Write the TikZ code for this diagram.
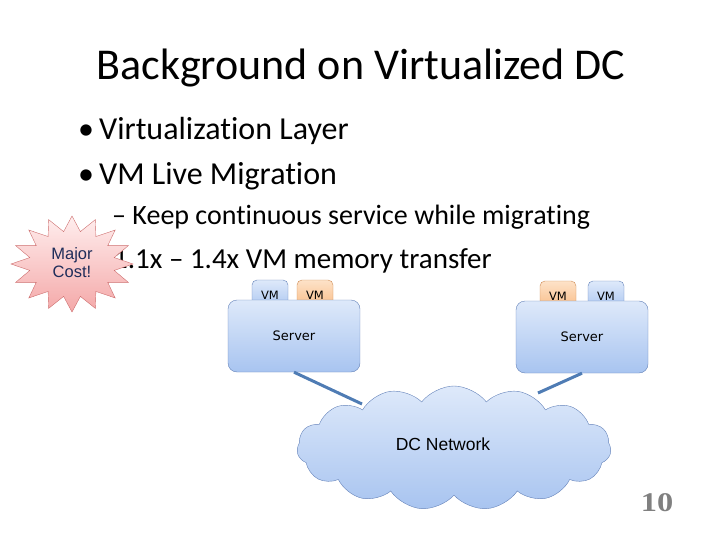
\documentclass[tikz,border=0pt]{standalone}
\usepackage{fontspec}
\setmainfont{Carlito}[Ligatures=NoCommon]
\newfontfamily\arialfont{Liberation Sans}
\newfontfamily\tahomafont{DejaVu Sans}
\newfontfamily\numfont{Liberation Serif}
\usetikzlibrary{shapes.symbols, positioning}
\definecolor{srvtop}{RGB}{222, 233, 250}
\definecolor{srvbot}{RGB}{168, 196, 240}
\definecolor{srvline}{RGB}{100, 130, 185}
\definecolor{vmtop}{RGB}{253, 226, 200}
\definecolor{vmbot}{RGB}{249, 186, 130}
\definecolor{vmline}{RGB}{205, 140, 85}
\definecolor{linkblue}{RGB}{79, 124, 180}
\definecolor{startop}{RGB}{255, 238, 238}
\definecolor{starbot}{RGB}{244, 168, 168}
\definecolor{starline}{RGB}{205, 110, 110}
\definecolor{costtext}{RGB}{31, 45, 90}

\begin{document}
\begin{tikzpicture}[
  x=1pt, y=-1pt,
  title/.style={font=\fontsize{44}{52}\selectfont, anchor=base, inner sep=0pt},
  bullet/.style={font=\fontsize{32}{38}\selectfont, anchor=base west, inner sep=0pt},
  subitem/.style={font=\fontsize{28}{33}\selectfont, anchor=base west, inner sep=0pt},
  server/.style={
    draw=srvline, rounded corners=9pt, top color=srvtop, bottom color=srvbot,
    minimum width=132pt, minimum height=72pt, inner sep=0pt,
    font=\tahomafont\fontsize{13}{15}\selectfont
  },
  vmblue/.style={
    draw=srvline, rounded corners=5pt, top color=srvtop, bottom color=srvbot,
    minimum width=36pt, minimum height=30pt, inner sep=0pt,
    font=\tahomafont\fontsize{11.5}{13}\selectfont
  },
  vmorange/.style={vmblue, draw=vmline, top color=vmtop, bottom color=vmbot},
  link/.style={draw=linkblue, line width=3pt}
]
  \useasboundingbox (0,0) rectangle (720,540);

  % Titolo e punti elenco
  \node[title] (title) at (361,80) {Background on Virtualized DC};
  \node[bullet] (b1) at (78,140) {\textbullet\hspace{5pt}Virtualization Layer};
  \node[bullet] (b2) at (78,185) {\textbullet\hspace{5pt}VM Live Migration};
  \node[subitem] (s1) at (112,225) {\textendash\ Keep continuous service while migrating};
  \node[subitem, font=\fontsize{29}{34}\selectfont] (s2) at (113,268) {1.1x \textendash\ 1.4x VM memory transfer};

  % Stella "Major Cost!"
  \draw[starline, top color=startop, bottom color=starbot, shift={(72,264)}]
    (0:61 and 48)
    \foreach \a in {0,22.5,...,337.5} { -- ({\a+11.25}:43 and 33) -- ({\a+22.5}:61 and 48) } -- cycle;
  \node[font=\arialfont\fontsize{16.5}{18}\selectfont, text=costtext, align=center] (cost) at (72,263) {Major\\Cost!};

  % Macchine virtuali (dietro ai server)
  \node[vmblue] (vm1) at (270,295) {VM};
  \node[vmorange] (vm2) at (315,295) {VM};
  \node[vmorange] (vm3) at (558,296) {VM};
  \node[vmblue] (vm4) at (606,296) {VM};

  % Server
  \node[server] (srv1) at (294,336) {Server};
  \node[server] (srv2) at (582,337) {Server};

  % Collegamenti
  \coordinate (netL) at (362,404);
  \coordinate (netR) at (538,393);
  \draw[link] (srv1.south) -- (netL);
  \draw[link] (srv2.south) -- (netR);

  % Rete
  \node[cloud, cloud puffs=15, cloud puff arc=105, aspect=2.6, draw=srvline,
        top color=srvtop, bottom color=srvbot, minimum width=314pt, minimum height=124pt]
        (net) at (454,448) {};
  \node[font=\arialfont\fontsize{17.5}{20}\selectfont] (netlbl) at (443,444) {DC Network};

  % Numero pagina
  \node[font=\numfont\bfseries\fontsize{27}{30}\selectfont, text=gray, xscale=1.2] (page) at (657,503) {10};
\end{tikzpicture}
\end{document}
